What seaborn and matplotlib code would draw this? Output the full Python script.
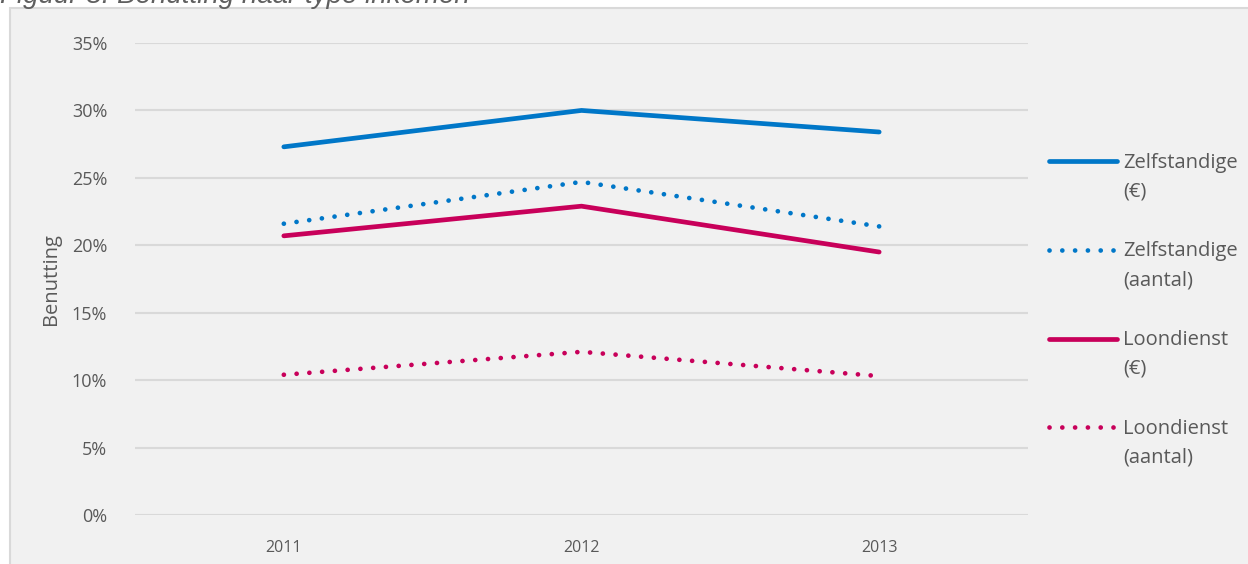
import pandas as pd
import seaborn as sns
import matplotlib.pyplot as plt
from matplotlib.patches import Rectangle
from matplotlib.ticker import FuncFormatter
from matplotlib.legend_handler import HandlerLine2D

jaren = ["2011", "2012", "2013"]
zelf_euro = [27.3, 30.0, 28.4]
zelf_aantal = [21.6, 24.7, 21.4]
loon_euro = [20.7, 22.9, 19.5]
loon_aantal = [10.4, 12.1, 10.3]

reeksen = ["Zelfstandige\n(€)", "Zelfstandige\n(aantal)", "Loondienst\n(€)", "Loondienst\n(aantal)"]
waarden = [zelf_euro, zelf_aantal, loon_euro, loon_aantal]
kleuren = ["#0077c8", "#0077c8", "#c8005a", "#c8005a"]
stijlen = ["-", (0, (0.01, 2.7)), "-", (0, (0.01, 2.7))]

df = pd.DataFrame({
    "jaar": jaren * 4,
    "benutting": sum(waarden, []),
    "reeks": [r for r in reeksen for _ in jaren],
})

sns.set_style("white")
plt.rcParams["font.family"] = ["Open Sans", "DejaVu Sans"]
tekst = "#595959"
leg_fs = 14.5
leg_ls = 1.6


# legend-lijn op hoogte van de eerste regel zetten
class BovensteRegel(HandlerLine2D):
    def create_artists(self, legend, orig_handle, xdescent, ydescent, width, height, fontsize, trans):
        arts = super().create_artists(legend, orig_handle, xdescent, ydescent, width, height, fontsize, trans)
        for a in arts:
            a.set_ydata([y + 0.5 * leg_ls * fontsize for y in a.get_ydata()])
        return arts


fig = plt.figure(figsize=(12.48, 5.64), dpi=100, facecolor="white")
# grijs paneel
fig.patches.append(Rectangle((10 / 1248, -0.01), 1.0, 556 / 564 + 0.01, transform=fig.transFigure,
                             facecolor="#f1f1f1", edgecolor="#d9d9d9", linewidth=1.5, zorder=-10))
fig.text(0.0, 1 - 3 / 564, "Figuur 8: Benutting naar type inkomen", fontsize=20, style="italic",
         color="#5f5f5f", va="baseline", ha="left", family="Liberation Sans")

ax = fig.add_axes([135 / 1248, 1 - 515 / 564, 893 / 1248, 472 / 564])
ax.set_facecolor("none")

for naam, kleur, stijl in zip(reeksen, kleuren, stijlen):
    sub = df[df["reeks"] == naam]
    sns.lineplot(data=sub, x="jaar", y="benutting", ax=ax, color=kleur, linestyle=stijl,
                 linewidth=3.4, label=naam, solid_capstyle="round", dash_capstyle="round",
                 sort=False)

ax.set_xlim(-0.5, 2.5)
ax.set_ylim(0, 35)
ax.set_yticks(range(0, 36, 5))
ax.yaxis.set_major_formatter(FuncFormatter(lambda v, p: f"{v:.0f}%"))
ax.grid(axis="y", color="#d9d9d9", linewidth=1.5)
ax.set_axisbelow(True)
for s in ax.spines.values():
    s.set_visible(False)
ax.tick_params(axis="y", length=0, pad=20, labelsize=13, labelcolor=tekst)
ax.tick_params(axis="x", length=0, pad=18, labelsize=11.5, labelcolor=tekst)
ax.set_xlabel("")
ax.set_ylabel("Benutting", fontsize=14.5, color=tekst, labelpad=8)

leg = ax.legend(loc="upper left", bbox_to_anchor=(1.014, 0.785), frameon=False, fontsize=leg_fs,
                labelcolor=tekst, handlelength=3.4, handletextpad=0.3, labelspacing=1.97,
                borderaxespad=0, handler_map={plt.Line2D: BovensteRegel()})
for t in leg.get_texts():
    t.set_linespacing(leg_ls)

fig.savefig("out.png", dpi=100, facecolor="white")
